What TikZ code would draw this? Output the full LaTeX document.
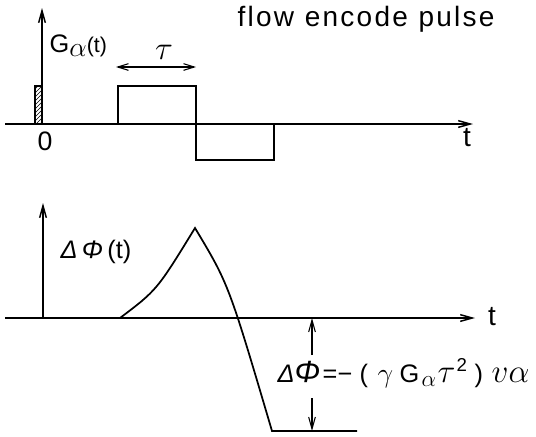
\documentclass[tikz,border=0pt]{standalone}
\usepackage{fontspec}
\setmainfont{Liberation Sans}
\newfontfamily\titlefont[LetterSpace=8]{Liberation Sans}
\usetikzlibrary{arrows.meta,patterns}
\newcommand{\fbx}[2]{\makebox[#1pt][l]{#2}}
\begin{document}
\begin{tikzpicture}[x=0.75pt,y=-0.75pt,line width=1.1pt,
  ax/.style={-{Straight Barb[length=9pt,width=5pt]}},
  dbl/.style={{Straight Barb[length=8pt,width=5pt]}-{Straight Barb[length=8pt,width=5pt]}},
  lbl/.style={inner sep=0pt,anchor=center}]
\useasboundingbox (0,0) rectangle (536,436);
% ---------- top panel ----------
\coordinate (a1s) at (5,124);
\coordinate (a1e) at (473,124);
\coordinate (v1s) at (42,124);
\coordinate (v1e) at (42,8);
\draw[ax] (a1s) -- (a1e);
\draw[ax] (v1s) -- (v1e);
\draw[line width=0.9pt,pattern=north east lines] (35,124) rectangle (42,86);
\draw (118,124) -- (118,86) -- (196,86) -- (196,160) -- (274,160) -- (274,124);
\coordinate (ta) at (116,67);
\coordinate (tb) at (196,67);
\draw[dbl,line width=0.8pt] (ta) -- (tb);
\node[lbl] (tau) at (164,52) {\fontsize{25}{25}\selectfont$\tau$};
\node[lbl,anchor=base west] (G) at (49,52) {\fontsize{19}{19}\selectfont G\raisebox{-3pt}{\fontsize{22}{22}\selectfont$\alpha$}\fontsize{16}{16}\selectfont(t)};
\node[lbl] (zero) at (45,141) {\fontsize{20}{20}\selectfont 0};
\node[lbl] (t1) at (467,138) {\fontsize{21}{21}\selectfont t};
\node[lbl,anchor=base west] (title) at (237,26) {\fontsize{21}{21}\selectfont\titlefont flow\hspace{8pt}encode\hspace{8pt}pulse};
% ---------- bottom panel ----------
\coordinate (a2s) at (5,318);
\coordinate (a2e) at (475,318);
\coordinate (v2s) at (43,318);
\coordinate (v2e) at (43,203);
\draw[ax] (a2s) -- (a2e);
\draw[ax] (v2s) -- (v2e);
\node[lbl] (t2) at (492,317) {\fontsize{21}{21}\selectfont t};
\node[lbl] (dphi) at (96,252) {\fontsize{19}{19}\selectfont\textit{Δ\,Φ}\,(t)};
\coordinate (c0) at (120,318);
\coordinate (pk) at (195,228);
\coordinate (c1) at (272,431);
\coordinate (c2) at (357,431);
\draw[line width=1.3pt] (c0) .. controls (157,290) .. (pk) .. controls (228.6,284) .. (c1) -- (c2);
\node[lbl,anchor=base west] (form) at (277,382) {\fontsize{19}{19}\selectfont
  \fbx{12.75}{\textit{Δ}}%
  \fbx{21}{\fontsize{23}{23}\selectfont\textit{Φ}}%
  \fbx{11.25}{=}%
  \fbx{16.5}{−}%
  \fbx{13.5}{(}%
  \fbx{16.5}{\fontsize{22}{22}\selectfont$\gamma$}%
  \fbx{16.5}{G}%
  \fbx{12}{\raisebox{-3pt}{\fontsize{16}{16}\selectfont$\alpha$}}%
  \fbx{14.25}{\fontsize{25}{25}\selectfont$\tau$}%
  \fbx{13.5}{\raisebox{8pt}{\fontsize{14}{14}\selectfont 2}}%
  \fbx{12.75}{)}%
  {\fontsize{31}{31}\selectfont$v$}{\fontsize{24}{24}\selectfont$\alpha$}};
\coordinate (u1) at (312,355);
\coordinate (u2) at (312,318);
\coordinate (d1) at (312,398);
\coordinate (d2) at (312,431);
\draw[ax,line width=0.8pt] (u1) -- (u2);
\draw[ax,line width=0.8pt] (d1) -- (d2);
\end{tikzpicture}
\end{document}
